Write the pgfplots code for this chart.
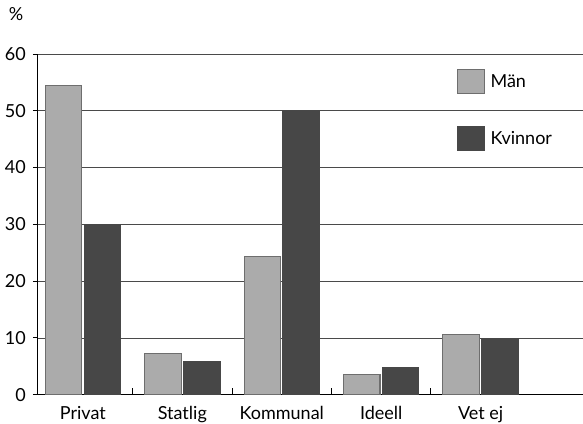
\documentclass[border=0pt]{standalone}
\usepackage{pgfplots}
\pgfplotsset{compat=1.18}
\usepackage{fontspec}
\setmainfont{Lato}
\definecolor{manfill}{HTML}{ABABAB}
\definecolor{mandraw}{HTML}{6E6E6E}
\definecolor{kvfill}{HTML}{474747}
\definecolor{gridc}{HTML}{4A4A4A}
\pgfplotsset{boxlegend/.style={legend image code/.code={\draw[##1] (0pt,-12pt) rectangle (27pt,12pt);}}}
\begin{document}
\begin{tikzpicture}[font=\fontsize{18}{21}\selectfont]
\begin{axis}[
    name=ax,
    scale only axis,
    width=546pt, height=341pt,
    ybar,
    boxlegend,
    bar width=36.5pt,
    xmin=-0.462, xmax=5.025,
    ymin=0, ymax=60,
    ytick={0,10,...,60},
    xtick={0,1,2,3,4},
    xticklabels={Privat,Statlig,Kommunal,Ideell,Vet ej},
    axis lines*=left,
    axis line style={black, line width=0.9pt},
    tick style={black, line width=0.9pt},
    tick align=outside,
    major tick length=4pt,
    xtick style={draw=none},
    extra x ticks={0.5,1.5,2.5,3.5},
    extra x tick labels={},
    extra x tick style={major tick length=7pt, tick align=inside, grid=none,
        xtick style={draw=black, line width=0.9pt}},
    ymajorgrids,
    grid style={gridc, line width=0.8pt},
    /pgf/number format/assume math mode=true,
    yticklabel style={inner sep=0pt, xshift=-7pt},
    xticklabel style={inner sep=0pt, yshift=-7pt, anchor=north},
    legend style={draw=none, fill=none, inner sep=0pt, outer sep=0pt,
        at={(rel axis cs:0.769,0.956)}, anchor=north west,
        nodes={inner sep=0pt}, row sep=32pt,
        /tikz/every odd column/.append style={column sep=6pt}},
    legend cell align=left,
]
\addplot[fill=manfill, draw=mandraw, line width=1.1pt, bar shift=-19.5pt]
    coordinates {(0,54.5) (1,7.3) (2,24.3) (3,3.6) (4,10.6)};
\addlegendentry{Män}
\addplot[fill=kvfill, draw=kvfill, line width=1.1pt, bar shift=19.5pt]
    coordinates {(0,30) (1,5.9) (2,50) (3,4.7) (4,9.9)};
\addlegendentry{Kvinnor}
\end{axis}
\node[anchor=center] at ([shift={(-21pt,40pt)}]ax.north west) {\%};
\path[use as bounding box] ([shift={(-37pt,-29pt)}]ax.south west) rectangle ([shift={(0pt,54pt)}]ax.north east);
\end{tikzpicture}
\end{document}
